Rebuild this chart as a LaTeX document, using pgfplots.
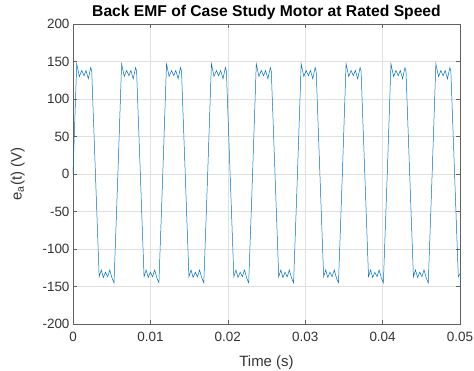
\documentclass[border=0pt]{standalone}
\usepackage{pgfplots}
\pgfplotsset{compat=1.18}
\usepackage{fontspec}
\setmainfont{Liberation Sans}
\definecolor{mblue}{rgb}{0,0.447,0.741}
\definecolor{axgray}{rgb}{0.38,0.38,0.38}
\begin{document}
\begin{tikzpicture}
\useasboundingbox (-73bp,-47bp) rectangle (401bp,324bp);
\begin{axis}[
  at={(0,0)}, anchor=south west,
  scale only axis,
  width=387bp, height=300bp,
  xmin=0, xmax=0.05, ymin=-200, ymax=200,
  xtick={0,0.01,0.02,0.03,0.04,0.05},
  xticklabels={0,0.01,0.02,0.03,0.04,0.05},
  ytick={-200,-150,-100,-50,0,50,100,150,200},
  tick pos=both, tick align=inside,
  major tick length=4bp,
  grid=major,
  major grid style={line width=0.5pt, draw=black!12},
  axis line style={axgray, line width=0.6pt},
  every tick/.style={axgray, line width=0.5pt},
  /pgf/number format/assume math mode=true,
  ticklabel style={font=\fontsize{13.5}{15}\selectfont, text=black!80},
  xticklabel style={yshift=-5bp},
  xlabel={Time (s)},
  ylabel={e$_{\mathrm{a}}$(t) (V)},
  label style={font=\fontsize{15}{17}\selectfont, text=black!80},
  title={\textbf{Back EMF of Case Study Motor at Rated Speed}},
  title style={font=\fontsize{15.7}{17}\selectfont, yshift=-5bp},
  xlabel style={yshift=-7bp},
  ylabel style={yshift=11bp},
  scaled x ticks=false,
  clip=true,
]
\addplot[mblue, line width=0.5pt] coordinates {
(0,0) (0.00048,147) (0.00082,130) (0.00113,138) (0.00142,131) (0.00168,138) (0.00198,127) (0.00229,142) (0.00242,137) (0.00290,0) (0.00338,-137) (0.00365,-128) (0.00392,-138) (0.00420,-131) (0.00448,-137) (0.00475,-128) (0.00505,-139) (0.00530,-145)
(0.00580,0) (0.00628,147) (0.00662,130) (0.00693,138) (0.00722,131) (0.00748,138) (0.00778,127) (0.00809,142) (0.00822,137) (0.00870,0) (0.00918,-137) (0.00945,-128) (0.00972,-138) (0.01000,-131) (0.01028,-137) (0.01055,-128) (0.01085,-139) (0.01110,-145)
(0.01160,0) (0.01208,147) (0.01242,130) (0.01273,138) (0.01302,131) (0.01328,138) (0.01358,127) (0.01389,142) (0.01402,137) (0.01450,0) (0.01498,-137) (0.01525,-128) (0.01552,-138) (0.01580,-131) (0.01608,-137) (0.01635,-128) (0.01665,-139) (0.01690,-145)
(0.01740,0) (0.01788,147) (0.01822,130) (0.01853,138) (0.01882,131) (0.01908,138) (0.01938,127) (0.01969,142) (0.01982,137) (0.02030,0) (0.02078,-137) (0.02105,-128) (0.02132,-138) (0.02160,-131) (0.02188,-137) (0.02215,-128) (0.02245,-139) (0.02270,-145)
(0.02320,0) (0.02368,147) (0.02402,130) (0.02433,138) (0.02462,131) (0.02488,138) (0.02518,127) (0.02549,142) (0.02562,137) (0.02610,0) (0.02658,-137) (0.02685,-128) (0.02712,-138) (0.02740,-131) (0.02768,-137) (0.02795,-128) (0.02825,-139) (0.02850,-145)
(0.02900,0) (0.02948,147) (0.02982,130) (0.03013,138) (0.03042,131) (0.03068,138) (0.03098,127) (0.03129,142) (0.03142,137) (0.03190,0) (0.03238,-137) (0.03265,-128) (0.03292,-138) (0.03320,-131) (0.03348,-137) (0.03375,-128) (0.03405,-139) (0.03430,-145)
(0.03480,0) (0.03528,147) (0.03562,130) (0.03593,138) (0.03622,131) (0.03648,138) (0.03678,127) (0.03709,142) (0.03722,137) (0.03770,0) (0.03818,-137) (0.03845,-128) (0.03872,-138) (0.03900,-131) (0.03928,-137) (0.03955,-128) (0.03985,-139) (0.04010,-145)
(0.04060,0) (0.04108,147) (0.04142,130) (0.04173,138) (0.04202,131) (0.04228,138) (0.04258,127) (0.04289,142) (0.04302,137) (0.04350,0) (0.04398,-137) (0.04425,-128) (0.04452,-138) (0.04480,-131) (0.04508,-137) (0.04535,-128) (0.04565,-139) (0.04590,-145)
(0.04640,0) (0.04688,147) (0.04722,130) (0.04753,138) (0.04782,131) (0.04808,138) (0.04838,127) (0.04869,142) (0.04882,137) (0.04930,0) (0.04978,-137) (0.05000,-133)
};
\end{axis}
\end{tikzpicture}
\end{document}
